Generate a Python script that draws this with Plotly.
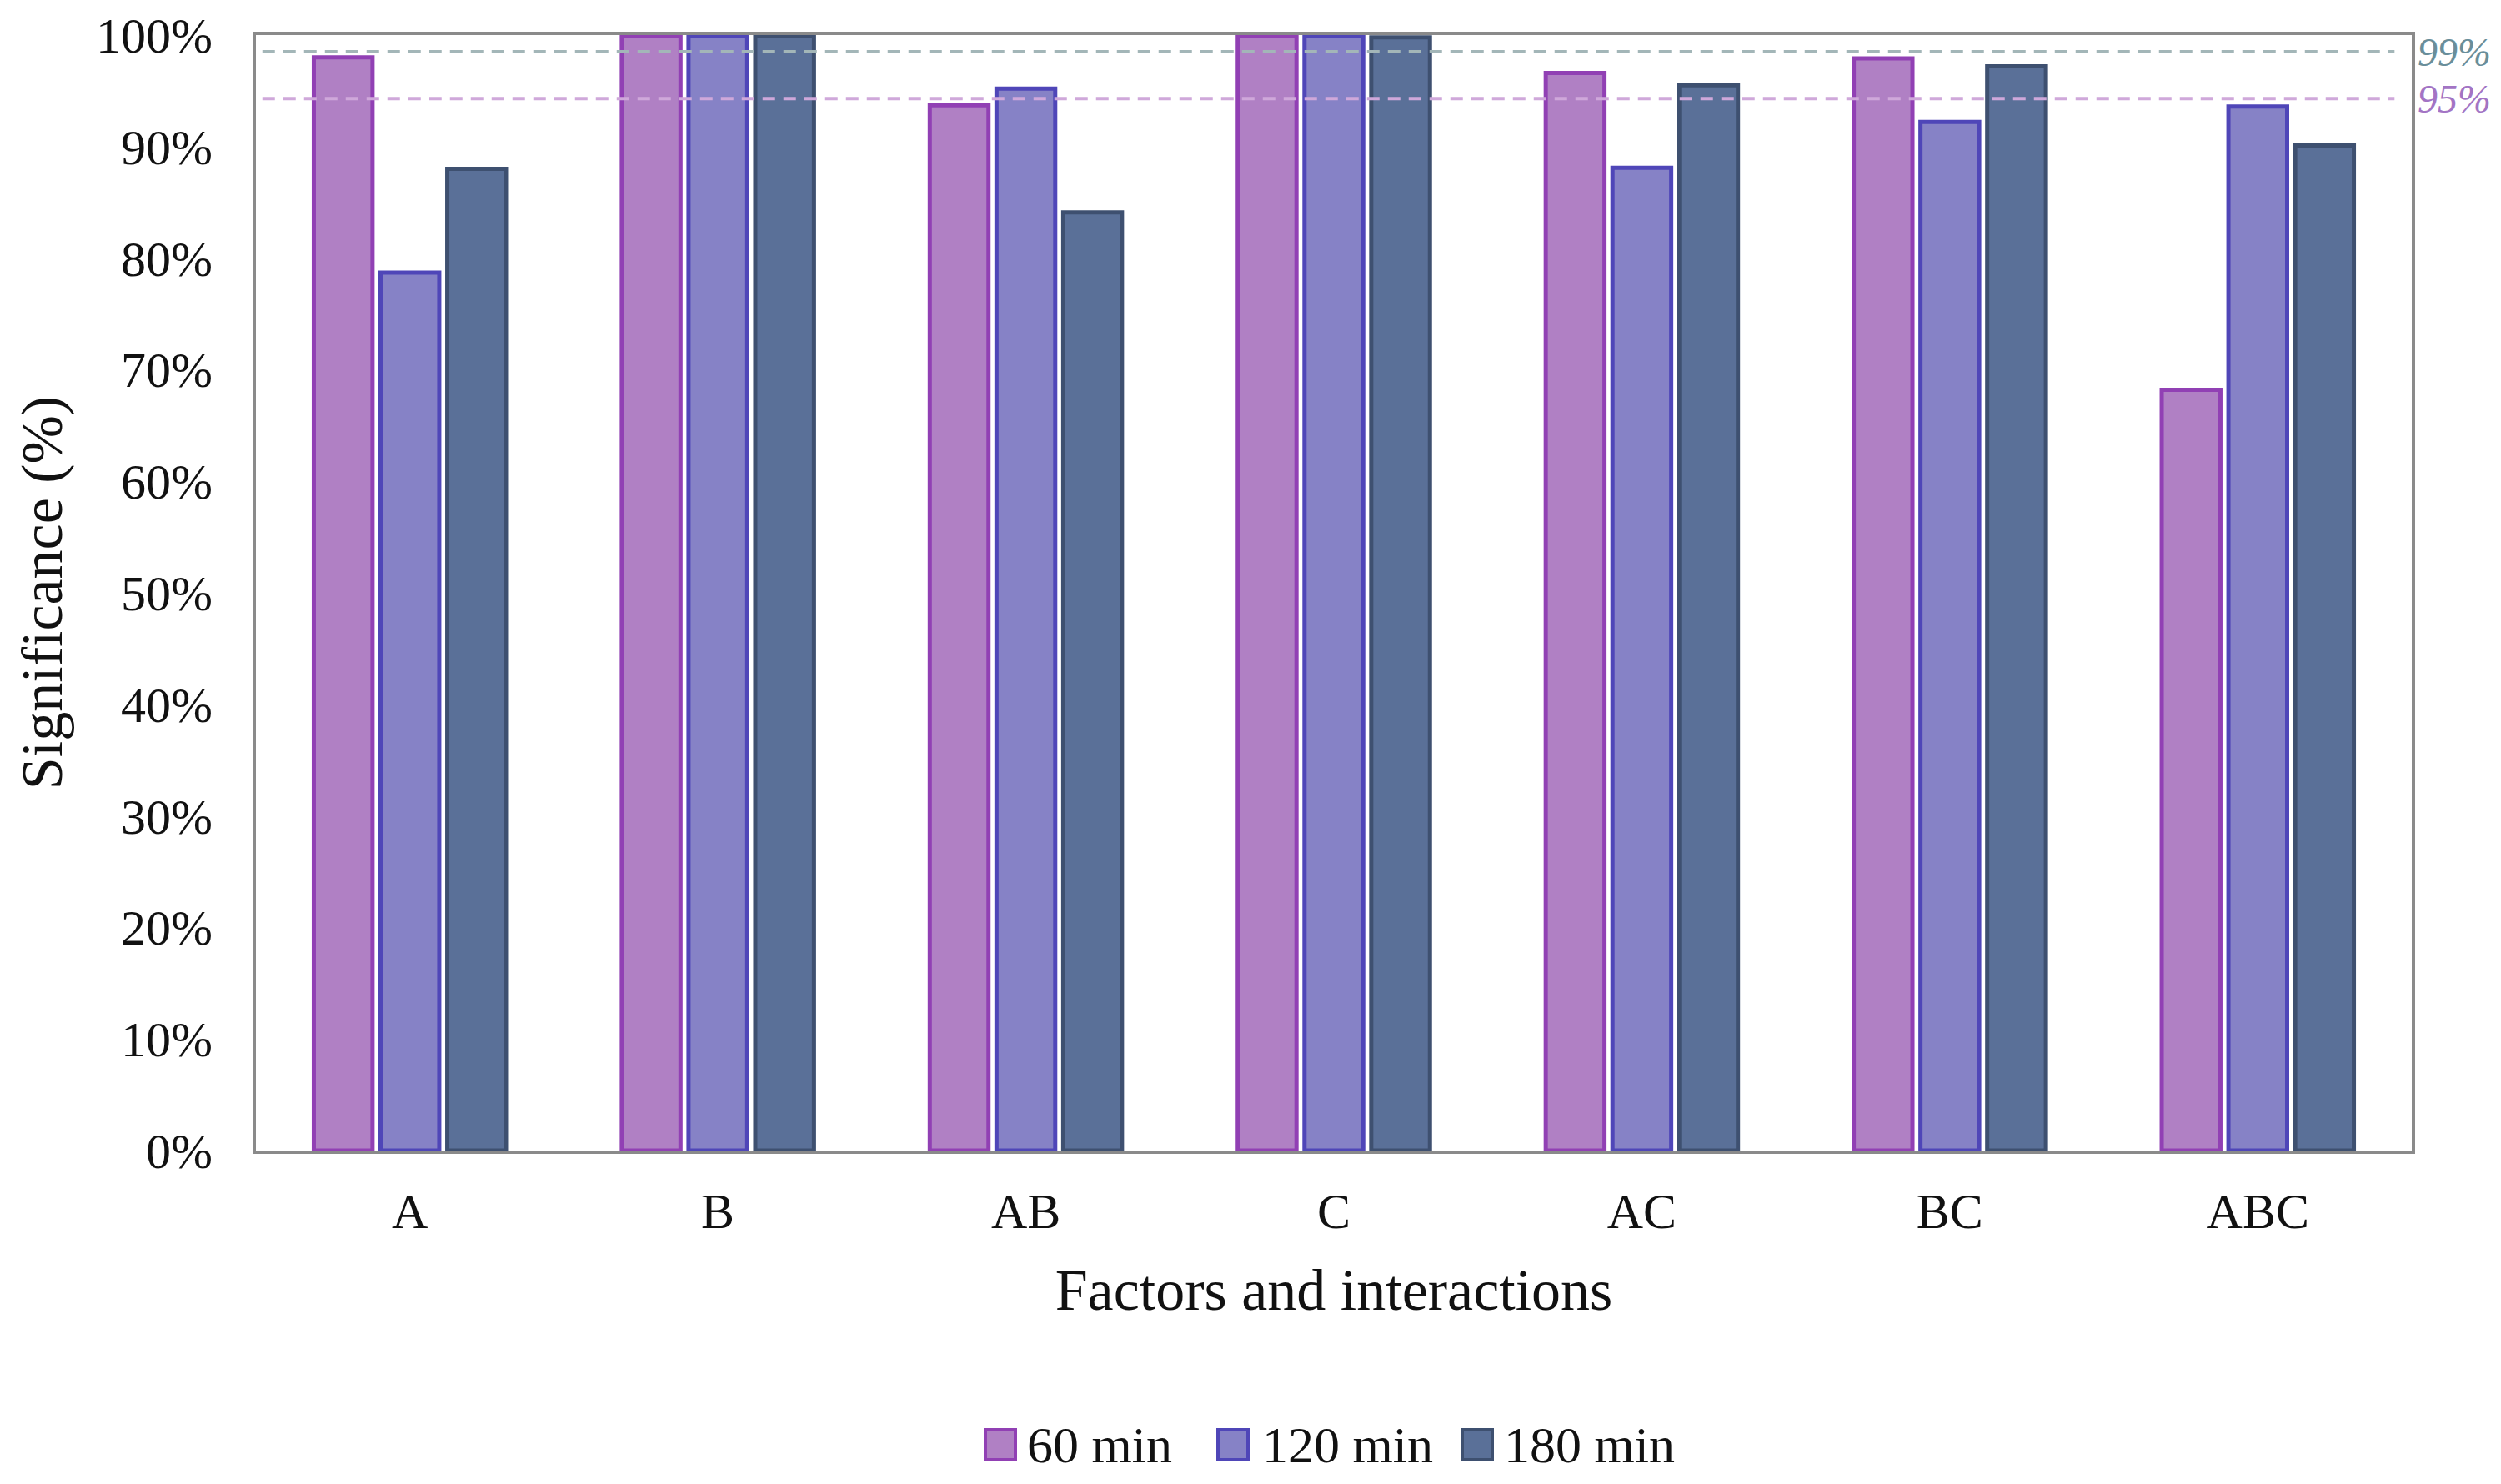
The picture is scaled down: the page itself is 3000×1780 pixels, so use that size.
import plotly.graph_objects as go

categories = ["A", "B", "AB", "C", "AC", "BC", "ABC"]
series_names = ["60 min", "120 min", "180 min"]
values_60 = [98.0, 99.9, 93.7, 99.9, 96.6, 97.9, 68.2]
values_120 = [78.7, 99.9, 95.2, 99.9, 88.1, 92.2, 93.6]
values_180 = [88.0, 99.9, 84.1, 99.8, 95.5, 97.2, 90.1]
y_ticks = [0, 10, 20, 30, 40, 50, 60, 70, 80, 90, 100]
y_tick_labels = [f"{t}%" for t in y_ticks]
threshold_values = [98.5, 94.3]
threshold_labels = ["99%", "95%"]

fills = ["#B080C4", "#8682C6", "#5A7098"]
outlines = ["#9140B4", "#4F46B8", "#3E5070"]
thr_line_colors = ["#A3B6B8", "#CFA8DA"]
thr_text_colors = ["#6A8E9A", "#A374C4"]

FONT = "Liberation Serif, Times New Roman, serif"

# figure geometry (page has an 8px body margin)
W, H = 2984, 1764
ML, MR, MT, MB = 299, 99, 34, 392
PLOT_W = W - ML - MR
PLOT_H = H - MT - MB


def px_to_paper_x(page_x):
    return (page_x - 8 - ML) / PLOT_W


def px_to_paper_y(page_y):
    return (H - MB - (page_y - 8)) / PLOT_H


fig = go.Figure()
for name, vals, fc, lc in zip(series_names, [values_60, values_120, values_180], fills, outlines):
    fig.add_trace(go.Bar(
        x=categories, y=vals, name=name,
        marker=dict(color=fc, line=dict(color=lc, width=5)),
        showlegend=False,
    ))

for v, lab, lcol, tcol in zip(threshold_values, threshold_labels, thr_line_colors, thr_text_colors):
    fig.add_shape(type="line", xref="paper", yref="y", x0=0.003, x1=0.992, y0=v, y1=v,
                  line=dict(color=lcol, width=4, dash="15px,10px"), layer="above")
    fig.add_annotation(xref="paper", yref="y", x=1.002, y=v, text=lab, showarrow=False,
                       xanchor="left", yanchor="middle",
                       font=dict(family=FONT, size=48, color=tcol, style="italic"))

# legend drawn as shapes + text (larger swatches than plotly's built-in legend)
legend_square_left = [1182, 1461, 1754]
legend_text_left = [1230, 1512, 1802]
legend_center_y = 1733
sq = 36
for name, fc, lc, sx, tx in zip(series_names, fills, outlines, legend_square_left, legend_text_left):
    fig.add_shape(type="rect", xref="paper", yref="paper",
                  x0=px_to_paper_x(sx), x1=px_to_paper_x(sx + sq),
                  y0=px_to_paper_y(legend_center_y + sq / 2), y1=px_to_paper_y(legend_center_y - sq / 2),
                  fillcolor=fc, line=dict(color=lc, width=4))
    fig.add_annotation(xref="paper", yref="paper", x=px_to_paper_x(tx), y=px_to_paper_y(legend_center_y),
                       text=name, showarrow=False, xanchor="left", yanchor="middle",
                       font=dict(family=FONT, size=62, color="#111111"))

fig.update_layout(
    width=W, height=H,
    margin=dict(l=ML, r=MR, t=MT, b=MB, autoexpand=False),
    paper_bgcolor="white", plot_bgcolor="white",
    barmode="group", bargap=0.35, bargroupgap=0.12,
    font=dict(family=FONT, size=60, color="#111111"),
    showlegend=False,
)
fig.update_xaxes(
    automargin=False,
    showline=True, linecolor="#8A8A8A", linewidth=4, mirror=True,
    ticks="", showgrid=False, tickfont=dict(family=FONT, size=60, color="#111111"),
    title=dict(text="Factors and interactions", font=dict(family=FONT, size=70, color="#111111"), standoff=38),
    ticklabelstandoff=17,
)
fig.update_yaxes(
    automargin=False,
    range=[0, 100], tickvals=y_ticks, ticktext=y_tick_labels,
    showline=True, linecolor="#8A8A8A", linewidth=4, mirror=True,
    ticks="", showgrid=False, zeroline=False,
    tickfont=dict(family=FONT, size=60, color="#111111"),
    ticklabelstandoff=36,
    title=dict(text="Significance (%)", font=dict(family=FONT, size=70, color="#111111"), standoff=19),
)

fig.write_html("out.html")
